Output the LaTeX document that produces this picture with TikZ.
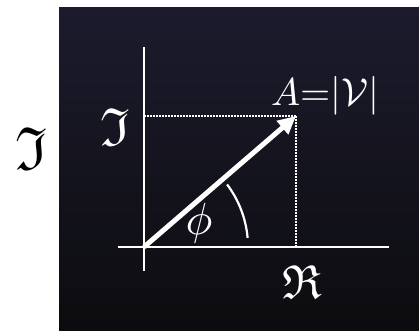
\documentclass[tikz,border=0pt]{standalone}
\usepackage{amssymb}
\usepackage{graphicx}
\usetikzlibrary{arrows.meta}
\begin{document}
\begin{tikzpicture}[x=1pt,y=1pt,
  axis/.style={white,line width=2.5pt},
  guide/.style={white,line width=1.6pt,dash pattern=on 1.6pt off 1.4pt},
  vec/.style={white,line width=5pt,-{Triangle[length=18pt,width=17pt]}},
  lbl/.style={text=white,inner sep=0pt}]
\useasboundingbox (0,0) rectangle (419,330);
\shade[top color={rgb,255:red,28;green,27;blue,45}, bottom color={rgb,255:red,12;green,12;blue,15}] (59,0) rectangle (419,322);
% coordinates
\coordinate (O) at (144,83);
\coordinate (vtop) at (144,283);
\coordinate (vbot) at (144,59);
\coordinate (hleft) at (118,83);
\coordinate (hright) at (389,83);
\coordinate (P) at (296,214);
\coordinate (Py) at (144,214);
\coordinate (Px) at (296,83);
% axes
\draw[axis] (vbot) -- (vtop);
\draw[axis] (hleft) -- (hright);
% guides
\draw[guide] (Py) -- (P);
\draw[guide] (P) -- (Px);
% vector
\draw[vec] (O) -- (P);
% angle arc
\draw[white,line width=2.2pt] ([shift={(5:104)}]O) arc[start angle=5,end angle=37,radius=104];
% labels
\node[lbl] (im) at (115,203) {\resizebox*{!}{37pt}{$\mathfrak{I}$}};
\node[lbl] (amp) at (325,234) {\resizebox{108pt}{!}{$A{=}|\mathcal{V}|$}};
\node[lbl] (phi) at (199,107) {\resizebox*{!}{40pt}{$\phi$}};
\node[lbl] (re) at (302,48) {\resizebox*{!}{33pt}{$\mathfrak{R}$}};
\node[inner sep=0pt] (imleft) at (32,182) {\resizebox*{32pt}{42pt}{$\mathfrak{I}$}};
\end{tikzpicture}
\end{document}
